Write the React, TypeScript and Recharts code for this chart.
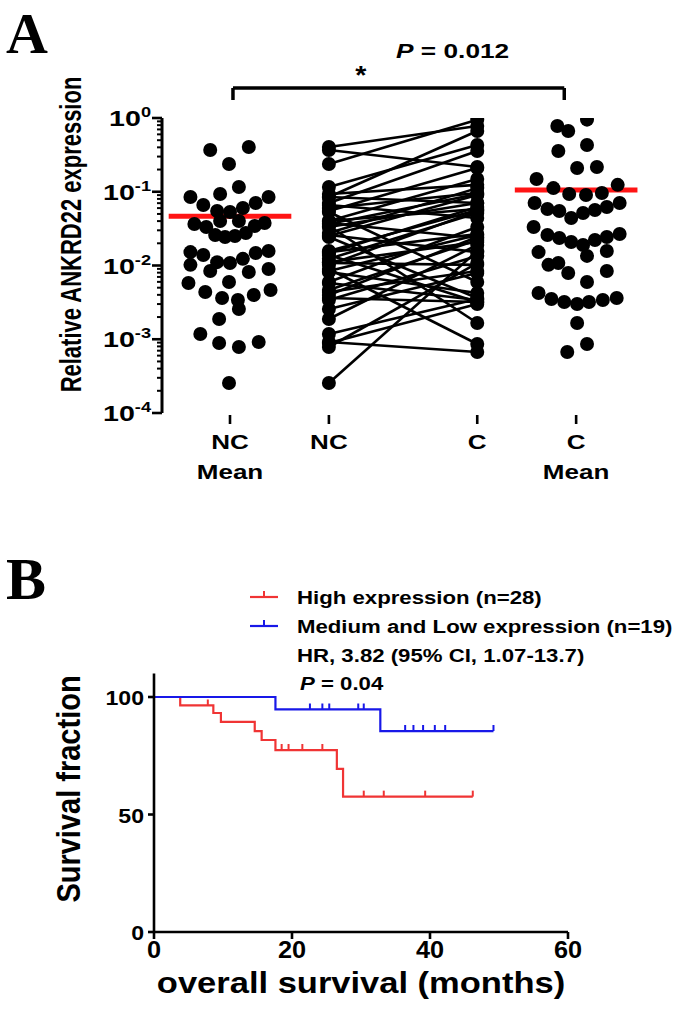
import React from 'react';
import { ComposedChart, Scatter, XAxis, YAxis, ReferenceLine, Line, Legend } from 'recharts';

const FONT = '"Liberation Sans", Arial, Helvetica, sans-serif';
const SERIF = '"Liberation Serif", "Times New Roman", serif';

// ---------- Panel A data ----------
const groupLabels: string[][] = [['NC', 'Mean'], ['NC'], ['C'], ['C', 'Mean']];
const groupPositions = [0, 1, 2.5, 3.5];

const ncValues = [0.368, 0.404, 0.238, 0.116, 0.0849, 0.0932, 0.0849, 0.0661, 0.0704, 0.0548, 0.0531, 0.0602, 0.0365, 0.0333, 0.0401, 0.0401, 0.0343, 0.0377, 0.0259, 0.0243, 0.0251, 0.0276, 0.0152, 0.0139, 0.0157, 0.0148, 0.0111, 0.0108, 0.0123, 0.0102, 0.00842, 0.00816, 0.00897, 0.00579, 0.00597, 0.00437, 0.00362, 0.0034, 0.00398, 0.00466, 0.00257, 0.00188, 0.00118, 0.000889, 0.000785, 0.000918, 0.000255];
const ncSpread = [-0.2, 0.19, -0.01, 0.09, -0.4, -0.1, 0.39, -0.27, 0.26, -0.13, 0, 0.13, -0.36, -0.24, -0.1, 0.09, 0.25, 0.35, -0.15, -0.05, 0.05, 0.16, -0.4, -0.27, 0.39, 0.26, -0.13, 0, 0.13, -0.4, -0.2, 0.19, 0.39, -0.42, -0.01, -0.25, -0.08, 0.08, 0.24, 0.41, 0.09, -0.11, -0.3, -0.11, 0.09, 0.29, -0.01];

const cValues = [0.95, 0.779, 0.667, 0.43, 0.357, 0.21, 0.217, 0.149, 0.112, 0.124, 0.0932, 0.0903, 0.0962, 0.0704, 0.0584, 0.0548, 0.0441, 0.0515, 0.0566, 0.0621, 0.0704, 0.0333, 0.0259, 0.0236, 0.0208, 0.019, 0.0222, 0.0243, 0.0267, 0.0152, 0.0135, 0.0157, 0.0102, 0.0108, 0.00791, 0.00842, 0.00597, 0.00424, 0.00352, 0.0032, 0.00301, 0.0032, 0.0034, 0.00362, 0.00166, 0.000862, 0.000672];
const cSpread = [0.11, -0.19, -0.08, 0.11, -0.18, 0.01, 0.21, -0.4, -0.23, 0.42, -0.07, 0.1, 0.26, -0.42, -0.29, -0.17, -0.05, 0.07, 0.19, 0.31, 0.44, -0.43, -0.29, -0.17, -0.05, 0.07, 0.19, 0.31, 0.44, -0.38, 0.11, 0.31, -0.28, -0.18, -0.08, 0.31, 0.11, -0.38, -0.25, -0.12, 0.01, 0.13, 0.27, 0.41, 0.01, 0.11, -0.09];

// pairing: k-th highest NC sample is paired with the pairRank[k]-th highest C sample
const pairRank = [1, 5, 0, 3, 8, 2, 13, 4, 20, 10, 6, 36, 16, 7, 25, 11, 44, 14, 9, 30, 12, 38, 17, 22, 15, 41, 19, 27, 33, 18, 45, 23, 37, 21, 40, 26, 34, 24, 42, 31, 35, 28, 39, 46, 43, 32, 29];

const ncMean = 0.0464;
const cMean = 0.106;
const pText = '0.012';

const logDecades = [-4, -3, -2, -1];

// ---------- Panel B data ----------
const seriesNames = ['High expression (n=28)', 'Medium and Low expression (n=19)'];
const seriesColors = ['#f03434', '#1818e8'];
const highSteps: number[][] = [[0, 100], [3.8, 96.4], [8.6, 93.2], [9.7, 89.4], [14.6, 85.5], [15.6, 81.7], [17.6, 77.4], [26.5, 69.4], [27.4, 57.6], [46.2, 57.6]];
const lowSteps: number[][] = [[0, 100], [17.6, 94.7], [32.8, 85.5], [49.2, 85.5]];
const highCensor: number[][] = [[7.8, 96.4], [18.5, 77.4], [19.5, 77.4], [21.5, 77.4], [24.4, 77.4], [30.4, 57.6], [33.3, 57.6], [39.3, 57.6], [46.2, 57.6]];
const lowCensor: number[][] = [[22.6, 94.7], [24.4, 94.7], [25.4, 94.7], [29.6, 94.7], [30.4, 94.7], [36.4, 85.5], [37.6, 85.5], [39, 85.5], [40.7, 85.5], [42.2, 85.5], [49.2, 85.5]];
const monthTicks = [0, 20, 40, 60];
const survTicks = [0, 50, 100];
const hrText = 'HR, 3.82 (95% CI, 1.07-13.7)';
const kmP = '0.04';

// ---------- helpers ----------
type STextProps = {
  x: number; y: number; size: number; sx?: number; sy?: number;
  anchor?: 'start' | 'middle' | 'end'; rotate?: number; fill?: string;
  children: React.ReactNode; family?: string;
};
function SText({ x, y, size, sx = 1, sy = 1, anchor = 'middle', rotate = 0, fill = '#000', children, family = FONT }: STextProps) {
  return (
    <g transform={`translate(${x},${y}) rotate(${rotate}) scale(${sx},${sy})`}>
      <text x={0} y={0} textAnchor={anchor} fontSize={size} fontWeight={700} fontFamily={family} fill={fill}>
        {children}
      </text>
    </g>
  );
}

const rankOrder = (vals: number[]) => vals.map((_, i) => i).sort((a, b) => vals[b] - vals[a]);
const ncOrder = rankOrder(ncValues);
const cOrder = rankOrder(cValues);
const pairs = ncOrder.map((ni, k) => [ncValues[ni], cValues[cOrder[pairRank[k]]]]);

const ncMeanPoints = ncValues.map((v, i) => ({ x: groupPositions[0] + ncSpread[i], y: v }));
const cMeanPoints = cValues.map((v, i) => ({ x: groupPositions[3] + cSpread[i], y: v }));

const logTicks: number[] = [];
logDecades.forEach((d) => {
  for (let k = 1; k <= 9; k++) logTicks.push(k * Math.pow(10, d));
});
logTicks.push(1);

const renderDot = (p: any) => <circle cx={p.cx} cy={p.cy} r={7} fill="#000" />;

function LogTick(props: any) {
  const { x, y, payload } = props;
  const v = payload.value;
  const lg = Math.log10(v);
  const major = Math.abs(lg - Math.round(lg)) < 1e-6;
  const len = major ? 10 : 5;
  return (
    <g>
      <line x1={x - len} x2={x} y1={y} y2={y} stroke="#000" strokeWidth={major ? 2.6 : 2} />
      {major && (
        <g transform={`translate(${x - 11},${y + 8}) scale(1.3,1)`}>
          <text x={0} y={0} textAnchor="end" fontSize={22} fontWeight={700} fontFamily={FONT} fill="#000">
            10<tspan dy={-9} fontSize={14}>{String(Math.round(lg))}</tspan>
          </text>
        </g>
      )}
    </g>
  );
}

function GroupTick(props: any) {
  const { x, y, payload } = props;
  const idx = groupPositions.indexOf(payload.value);
  const lines = groupLabels[idx] || [];
  return (
    <g>
      <line x1={x} x2={x} y1={y + 2} y2={y + 11} stroke="#000" strokeWidth={2.6} />
      {lines.map((l, i) => (
        <SText key={i} x={x} y={y + 36 + i * 30} size={21} sx={1.24}>{l}</SText>
      ))}
    </g>
  );
}

function MonthTick(props: any) {
  const { x, y, payload } = props;
  return <SText x={x} y={y + 15} size={23} sx={1.1}>{payload.value}</SText>;
}
function SurvTick(props: any) {
  const { x, y, payload } = props;
  return <SText x={x} y={y + 8} size={21} sx={1.1} anchor="end">{payload.value}</SText>;
}

function KMLegend() {
  return (
    <svg width={440} height={120} style={{ overflow: 'visible' }}>
      {seriesNames.map((n, i) => (
        <g key={n}>
          <line x1={10} x2={38} y1={15 + i * 29} y2={15 + i * 29} stroke={seriesColors[i]} strokeWidth={2.2} />
          <line x1={24} x2={24} y1={15 + i * 29} y2={9 + i * 29} stroke={seriesColors[i]} strokeWidth={2} />
          <SText x={57} y={22 + i * 29} size={18.5} sx={1.2} anchor="start">{n}</SText>
        </g>
      ))}
      <SText x={57} y={80} size={18.5} sx={1.2} anchor="start">{hrText}</SText>
      <SText x={60} y={108} size={18.5} sx={1.2} anchor="start">
        <tspan fontStyle="italic">P</tspan> = {kmP}
      </SText>
    </svg>
  );
}

const censorShape = (color: string) => (p: any) => (
  <line x1={p.cx} x2={p.cx} y1={p.cy} y2={p.cy - 6} stroke={color} strokeWidth={2} />
);

export default function App() {
  const toPts = (arr: number[][]) => arr.map(([t, s]) => ({ t, s }));
  return (
    <div style={{ position: 'absolute', left: 0, top: 0, width: 675, height: 1010, background: '#fff' }}>
      <div style={{ position: 'absolute', left: 0, top: 0 }}>
        <ComposedChart width={675} height={500} margin={{ top: 118, right: 15, bottom: 0, left: 0 }}>
          <XAxis type="number" dataKey="x" domain={[-0.6876, 4.348]} ticks={groupPositions} interval={0}
            axisLine={false} tickLine={false} tickSize={0} tickMargin={0} height={87} tick={<GroupTick />} allowDataOverflow />
          <YAxis type="number" dataKey="y" scale="log" domain={[0.0001, 1]} ticks={logTicks} interval={0} width={162}
            axisLine={{ stroke: '#000', strokeWidth: 3 }} tickLine={false} tickSize={0} tickMargin={0}
            tick={<LogTick />} allowDataOverflow
            label={(p: any) => {
              const vb = p.viewBox || { x: 0, y: 118, width: 162, height: 295 };
              return (
                <SText x={vb.x + 81} y={vb.y + vb.height / 2 - 31} size={22} sy={1.3} rotate={-90}>
                  Relative ANKRD22 expression
                </SText>
              );
            }} />
          <Scatter data={ncMeanPoints} shape={renderDot} isAnimationActive={false} />
          <Scatter data={cMeanPoints} shape={renderDot} isAnimationActive={false} />
          {pairs.map((pr, i) => (
            <Scatter key={i} data={[{ x: groupPositions[1], y: pr[0] }, { x: groupPositions[2], y: pr[1] }]}
              line={{ stroke: '#000', strokeWidth: 2.6 }} shape={renderDot} isAnimationActive={false} />
          ))}
          <ReferenceLine segment={[{ x: groupPositions[0] - 0.62, y: ncMean }, { x: groupPositions[0] + 0.62, y: ncMean }]}
            stroke="#ff1414" strokeWidth={5} ifOverflow="visible" />
          <ReferenceLine segment={[{ x: groupPositions[3] - 0.62, y: cMean }, { x: groupPositions[3] + 0.62, y: cMean }]}
            stroke="#ff1414" strokeWidth={5} ifOverflow="visible" />
          <ReferenceLine segment={[{ x: 0.03, y: 1.755 }, { x: 0.03, y: 2.55 }]} stroke="#000" strokeWidth={3.5} ifOverflow="visible" />
          <ReferenceLine segment={[{ x: 3.38, y: 1.755 }, { x: 3.38, y: 2.55 }]} stroke="#000" strokeWidth={3.5} ifOverflow="visible" />
          <ReferenceLine segment={[{ x: 0.03, y: 2.55 }, { x: 3.38, y: 2.55 }]} stroke="#000" strokeWidth={3.5} ifOverflow="visible"
            label={(p: any) => {
              const vb = p.viewBox || { x: 235, y: 88, width: 329 };
              return (
                <g>
                  <SText x={vb.x + vb.width * 0.386} y={vb.y - 4} size={26} sx={1.1}>*</SText>
                  <SText x={vb.x + vb.width * 0.663} y={vb.y - 30} size={21} sx={1.25}>
                    <tspan fontStyle="italic">P</tspan> = {pText}
                  </SText>
                </g>
              );
            }} />
        </ComposedChart>
      </div>
      <div style={{ position: 'absolute', left: 0, top: 520 }}>
        <ComposedChart width={675} height={490} margin={{ top: 153.5, right: 107, bottom: 0, left: 0 }}>
          <XAxis type="number" dataKey="t" domain={[0, 60]} ticks={monthTicks} interval={0} allowDataOverflow
            axisLine={{ stroke: '#000', strokeWidth: 2.6 }} tickLine={{ stroke: '#000', strokeWidth: 2.6 }}
            tickSize={7} tickMargin={4} height={78} tick={<MonthTick />}
            label={(p: any) => {
              const vb = p.viewBox || { x: 154, y: 412, width: 414 };
              return <SText x={vb.x + vb.width / 2} y={vb.y + 61} size={29} sx={1.19}>overall survival (months)</SText>;
            }} />
          <YAxis type="number" dataKey="s" domain={[0, 110]} ticks={survTicks} interval={0} width={154} allowDataOverflow
            axisLine={{ stroke: '#000', strokeWidth: 2.6 }} tickLine={{ stroke: '#000', strokeWidth: 2.6 }}
            tickSize={6} tickMargin={4} tick={<SurvTick />}
            label={(p: any) => {
              const vb = p.viewBox || { x: 0, y: 153.5, width: 154, height: 258.5 };
              return (
                <SText x={vb.x + 80} y={vb.y + 269 - 153.5} size={29} sy={1.15} rotate={-90}>
                  Survival fraction
                </SText>
              );
            }} />
          <Legend verticalAlign="middle" align="center" layout="horizontal" content={() => <KMLegend />}
            wrapperStyle={{ position: 'absolute', left: 240, top: 62, width: 440, height: 120 }} />
          <Line name={seriesNames[0]} data={toPts(highSteps)} dataKey="s" type="stepAfter" stroke={seriesColors[0]}
            strokeWidth={2.2} dot={false} isAnimationActive={false} />
          <Line name={seriesNames[1]} data={toPts(lowSteps)} dataKey="s" type="stepAfter" stroke={seriesColors[1]}
            strokeWidth={2.2} dot={false} isAnimationActive={false} />
          <Scatter data={toPts(highCensor)} shape={censorShape(seriesColors[0])} isAnimationActive={false} legendType="none" />
          <Scatter data={toPts(lowCensor)} shape={censorShape(seriesColors[1])} isAnimationActive={false} legendType="none" />
        </ComposedChart>
      </div>
      <svg width={675} height={1010} style={{ position: 'absolute', left: 0, top: 0, pointerEvents: 'none' }}>
        <text x={6} y={53} fontFamily={SERIF} fontWeight={700} fontSize={58} fill="#000">A</text>
        <text x={6} y={599} fontFamily={SERIF} fontWeight={700} fontSize={60} fill="#000">B</text>
      </svg>
    </div>
  );
}
